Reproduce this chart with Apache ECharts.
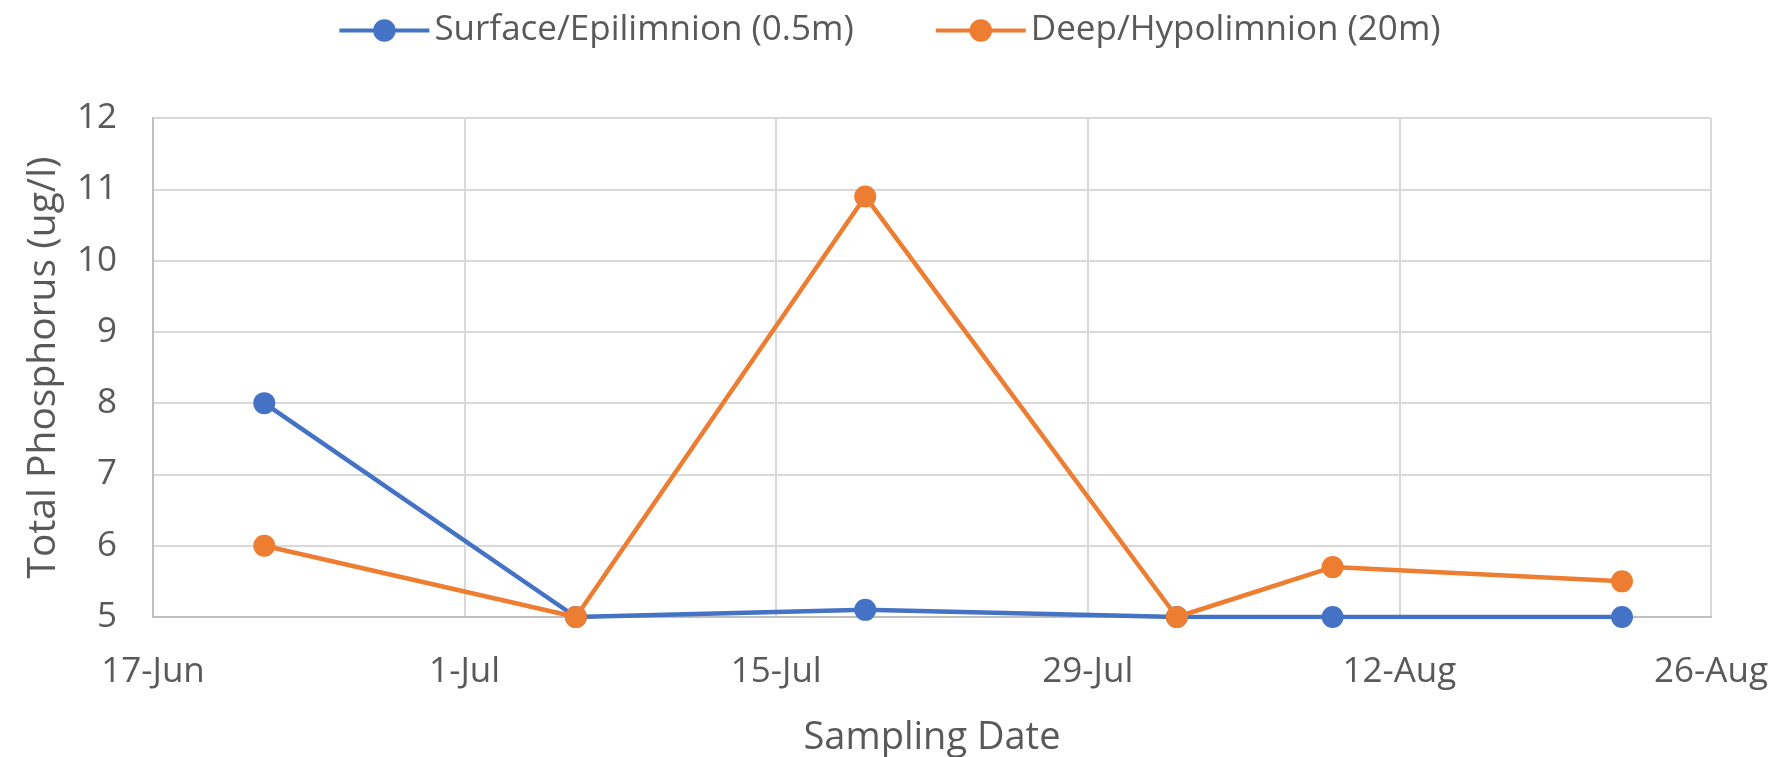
<!DOCTYPE html>
<html><head><meta charset="utf-8">
<script src="https://cdn.jsdelivr.net/npm/echarts@6/dist/echarts.min.js"></script>
<style>html,body{margin:0;padding:0;background:#fff}#c{width:1778px;height:757px}</style>
</head><body><div id="c"></div>
<script>
const sampleDates = ['06-22', '07-06', '07-19', '08-02', '08-09', '08-22'];
const surface = [8, 5, 5.1, 5, 5, 5];
const deep = [6, 5, 10.9, 5, 5.7, 5.5];
const seriesNames = ['Surface/Epilimnion (0.5m)', 'Deep/Hypolimnion (20m)'];
const xStart = '06-17';
const xTickStepDays = 14;
const xSpanDays = 70;
const yMin = 5, yMax = 12, yStep = 1;
const monthNames = ['Jan','Feb','Mar','Apr','May','Jun','Jul','Aug','Sep','Oct','Nov','Dec'];

const YEAR = 2019;
function toUTC(md){ const [m,d] = md.split('-').map(Number); return Date.UTC(YEAR, m-1, d); }
const DAY = 86400000;
const base = toUTC(xStart);
function offset(md){ return Math.round((toUTC(md) - base)/DAY); }
function labelFor(off){ const dt = new Date(base + off*DAY); return dt.getUTCDate() + '-' + monthNames[dt.getUTCMonth()]; }

const textColor = '#595959';
const font = 'Open Sans';
const chart = echarts.init(document.getElementById('c'), null, {renderer:'canvas'});
chart.setOption({
  animation:false,
  legend:{
    top: 8, left:'center',
    itemWidth: 90, itemHeight: 28, itemGap: 80,
    lineStyle:{width:4},
    textStyle:{color:textColor, fontFamily:font, fontSize:35},
    data: seriesNames
  },
  grid:{left:153, right:67, top:118, bottom:140, containLabel:false, outerBoundsMode:'none'},
  xAxis:{
    type:'value', min:0, max:xSpanDays, interval:xTickStepDays,
    name:'Sampling Date', nameLocation:'middle', nameGap:102,
    nameTextStyle:{color:textColor, fontFamily:font, fontSize:38},
    axisLine:{show:true, lineStyle:{color:'#BFBFBF', width:2}},
    axisTick:{show:false},
    axisLabel:{color:textColor, fontFamily:font, fontSize:35, margin:38, formatter:v=>labelFor(v)},
    splitLine:{show:true, lineStyle:{color:'#D9D9D9', width:2}}
  },
  yAxis:{
    type:'value', min:yMin, max:yMax, interval:yStep,
    name:'Total Phosphorus (ug/l)', nameLocation:'middle', nameGap:90,
    nameTextStyle:{color:textColor, fontFamily:font, fontSize:39},
    axisLine:{show:true, lineStyle:{color:'#BFBFBF', width:2}},
    axisTick:{show:false},
    axisLabel:{color:textColor, fontFamily:font, fontSize:35, margin:36},
    splitLine:{show:true, lineStyle:{color:'#D9D9D9', width:2}}
  },
  series:[
    {name:seriesNames[0], type:'line', data: sampleDates.map((d,i)=>[offset(d), surface[i]]),
     symbol:'circle', symbolSize:22, itemStyle:{color:'#4472C4'}, lineStyle:{color:'#4472C4', width:4.5}, z:3},
    {name:seriesNames[1], type:'line', data: sampleDates.map((d,i)=>[offset(d), deep[i]]),
     symbol:'circle', symbolSize:22, itemStyle:{color:'#ED7D31'}, lineStyle:{color:'#ED7D31', width:4.5}, z:4}
  ]
});
</script></body></html>
